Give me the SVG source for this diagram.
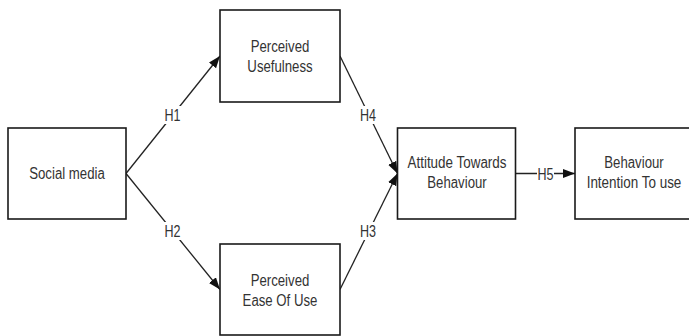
<svg xmlns="http://www.w3.org/2000/svg" width="689" height="336" viewBox="0 0 689 336">
<defs>
<style>
.box{fill:#fff;stroke:#1a1a1a;stroke-width:1.6}
.t{font-family:"Liberation Sans",Arial,sans-serif;font-size:16px;fill:#333;text-anchor:middle}
.c{stroke:#222;stroke-width:1.3;fill:none}
.lb{fill:#fff}
</style>
<marker id="ah" markerUnits="userSpaceOnUse" markerWidth="13" markerHeight="10" refX="12" refY="4.5" orient="auto">
<path d="M0,0 L12,4.5 L0,9 z" fill="#111"/>
</marker>
</defs>
<rect width="689" height="336" fill="#fff"/>
<g id="connectors">
<line class="c" x1="126" y1="173.5" x2="220" y2="56" marker-end="url(#ah)"/>
<line class="c" x1="126" y1="173.5" x2="220" y2="289.5" marker-end="url(#ah)"/>
<line class="c" x1="340" y1="56" x2="397.5" y2="173.5" marker-end="url(#ah)"/>
<line class="c" x1="340" y1="289.5" x2="397.5" y2="173.5" marker-end="url(#ah)"/>
<line class="c" x1="515.5" y1="173.5" x2="575" y2="173.5" marker-end="url(#ah)"/>
<rect class="lb" x="163" y="106" width="20" height="18"/>
<rect class="lb" x="163" y="222" width="20" height="18"/>
<rect class="lb" x="358" y="106" width="20" height="18"/>
<rect class="lb" x="358" y="222" width="20" height="18"/>
<rect class="lb" x="537" y="166" width="17" height="15"/>
<text class="t" x="172.5" y="121" textLength="16" lengthAdjust="spacingAndGlyphs">H1</text>
<text class="t" x="172.5" y="237" textLength="16" lengthAdjust="spacingAndGlyphs">H2</text>
<text class="t" x="368" y="121" textLength="16" lengthAdjust="spacingAndGlyphs">H4</text>
<text class="t" x="368" y="237" textLength="16" lengthAdjust="spacingAndGlyphs">H3</text>
<text class="t" x="545.5" y="179.5" textLength="16" lengthAdjust="spacingAndGlyphs">H5</text>
</g>
<g id="social-media">
<rect class="box" x="8" y="128" width="118" height="91"/>
<text class="t" x="67" y="178.8" textLength="75.6" lengthAdjust="spacingAndGlyphs">Social media</text>
</g>
<g id="perceived-usefulness">
<rect class="box" x="220" y="10" width="120" height="92"/>
<text class="t" x="280" y="52" textLength="58.7" lengthAdjust="spacingAndGlyphs">Perceived</text>
<text class="t" x="280" y="72" textLength="65.3" lengthAdjust="spacingAndGlyphs">Usefulness</text>
</g>
<g id="perceived-ease-of-use">
<rect class="box" x="220" y="244" width="120" height="91"/>
<text class="t" x="280" y="285.5" textLength="58.7" lengthAdjust="spacingAndGlyphs">Perceived</text>
<text class="t" x="280" y="305.5" textLength="74.8" lengthAdjust="spacingAndGlyphs">Ease Of Use</text>
</g>
<g id="attitude-towards-behaviour">
<rect class="box" x="397.5" y="128" width="118" height="91"/>
<text class="t" x="457" y="167.5" textLength="99" lengthAdjust="spacingAndGlyphs">Attitude Towards</text>
<text class="t" x="457" y="188" textLength="59.4" lengthAdjust="spacingAndGlyphs">Behaviour</text>
</g>
<g id="behaviour-intention-to-use">
<rect class="box" x="575" y="128" width="118" height="91"/>
<text class="t" x="634" y="167.5" textLength="59.4" lengthAdjust="spacingAndGlyphs">Behaviour</text>
<text class="t" x="634" y="188" textLength="94.7" lengthAdjust="spacingAndGlyphs">Intention To use</text>
</g>
</svg>
